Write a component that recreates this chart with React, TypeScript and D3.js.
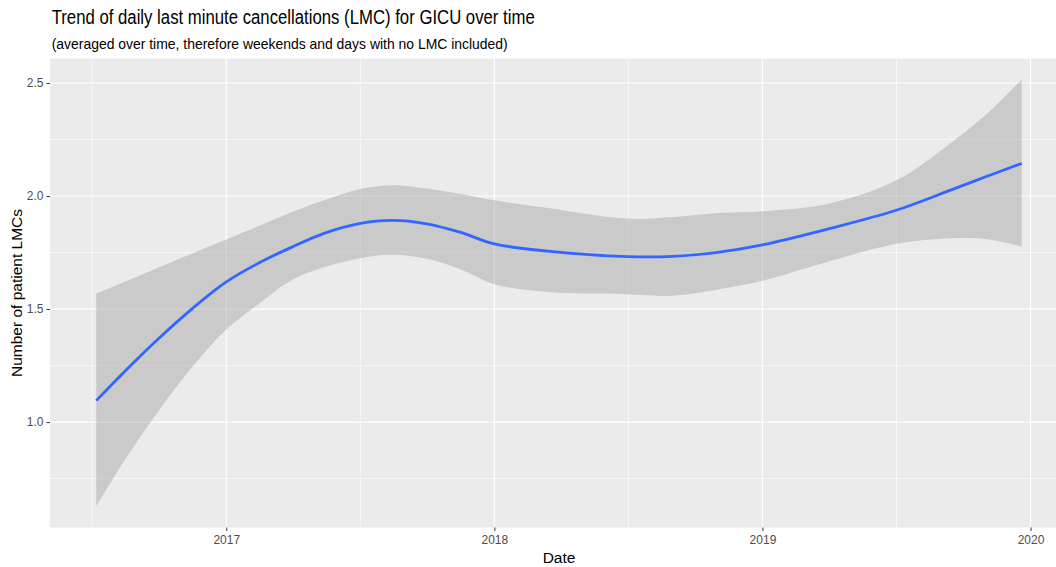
import React, { useRef, useEffect } from "react";
import * as d3 from "d3";

// loess smooth (date, fitted value, 95% band)
const dates = [
  "2016-07-08", "2016-08-15", "2016-10-01", "2016-11-15", "2017-01-01",
  "2017-02-15", "2017-04-01", "2017-05-15", "2017-07-01", "2017-08-15",
  "2017-10-01", "2017-11-15", "2018-01-01", "2018-03-15", "2018-07-01",
  "2018-09-01", "2018-11-01", "2019-01-01", "2019-04-01", "2019-07-01",
  "2019-09-15", "2019-11-01", "2019-12-20",
];
const fit = [
  1.095, 1.222, 1.37, 1.5, 1.62, 1.705, 1.775, 1.836, 1.878, 1.892,
  1.877, 1.84, 1.788, 1.756, 1.732, 1.733, 1.751, 1.784, 1.855, 1.936,
  2.027, 2.085, 2.144,
];
const upper = [
  1.569, 1.62, 1.684, 1.745, 1.808, 1.868, 1.929, 1.982, 2.03, 2.048,
  2.033, 2.01, 1.981, 1.947, 1.9, 1.907, 1.925, 1.933, 1.966, 2.067,
  2.236, 2.359, 2.514,
];
const lower = [
  0.628, 0.828, 1.05, 1.241, 1.41, 1.525, 1.63, 1.686, 1.724, 1.74,
  1.722, 1.677, 1.61, 1.575, 1.566, 1.559, 1.587, 1.625, 1.71, 1.788,
  1.813, 1.81, 1.776,
];

const yTicks = [1.0, 1.5, 2.0, 2.5];
const yMinor = [0.75, 1.25, 1.75, 2.25];
const xYears = ["2017", "2018", "2019", "2020"];

const title = "Trend of daily last minute cancellations (LMC) for GICU over time";
const subtitle = "(averaged over time, therefore weekends and days with no LMC included)";
const xTitle = "Date";
const yTitle = "Number of patient LMCs";

const FONT = "'Liberation Sans Narrow', 'Liberation Sans', Arial, sans-serif";

const App = () => {
  const plot = useRef(null);

  const width = 1056;
  const height = 567;
  const left = 50;
  const right = 1068;
  const top = 58.5;
  const bottom = 527.5;

  useEffect(() => {
    const svg = d3.select(plot.current);
    svg.selectAll("*").remove();

    const parse = d3.timeParse("%Y-%m-%d");
    const data = dates.map((d, i) => ({
      date: parse(d),
      fit: fit[i],
      hi: upper[i],
      lo: lower[i],
    }));

    // ggplot style 5% expansion
    const [t0, t1] = d3.extent(data, d => d.date.getTime());
    const tPad = (t1 - t0) * 0.05;
    const xScale = d3.scaleTime()
      .domain([new Date(t0 - tPad), new Date(t1 + tPad)])
      .range([left, right]);

    const vMin = d3.min(data, d => d.lo);
    const vMax = d3.max(data, d => d.hi);
    const vPad = (vMax - vMin) * 0.05;
    const yScale = d3.scaleLinear()
      .domain([vMin - vPad, vMax + vPad])
      .range([bottom, top]);

    // panel
    svg.append("rect")
      .attr("x", left)
      .attr("y", top)
      .attr("width", right - left)
      .attr("height", bottom - top)
      .attr("fill", "#EBEBEB");

    const majors = xYears.map(y => parse(y + "-01-01"));
    const minors = [];
    majors.forEach((m, i) => {
      const prev = i > 0 ? majors[i - 1].getTime() : m.getTime() - (majors[1] - majors[0]);
      minors.push(new Date((prev + m.getTime()) / 2));
    });

    const grid = svg.append("g");
    grid.append("g").selectAll("line")
      .data(yMinor)
      .join("line")
      .attr("x1", left).attr("x2", right)
      .attr("y1", d => yScale(d)).attr("y2", d => yScale(d))
      .attr("stroke", "#fff").attr("stroke-width", 0.6);
    grid.append("g").selectAll("line")
      .data(minors.filter(d => xScale(d) > left))
      .join("line")
      .attr("y1", top).attr("y2", bottom)
      .attr("x1", d => xScale(d)).attr("x2", d => xScale(d))
      .attr("stroke", "#fff").attr("stroke-width", 0.6);
    grid.append("g").selectAll("line")
      .data(yTicks)
      .join("line")
      .attr("x1", left).attr("x2", right)
      .attr("y1", d => yScale(d)).attr("y2", d => yScale(d))
      .attr("stroke", "#fff").attr("stroke-width", 1.2);
    grid.append("g").selectAll("line")
      .data(majors)
      .join("line")
      .attr("y1", top).attr("y2", bottom)
      .attr("x1", d => xScale(d)).attr("x2", d => xScale(d))
      .attr("stroke", "#fff").attr("stroke-width", 1.2);

    // confidence band
    const area = d3.area()
      .x(d => xScale(d.date))
      .y0(d => yScale(d.lo))
      .y1(d => yScale(d.hi))
      .curve(d3.curveCatmullRom.alpha(0.5));
    svg.append("path")
      .attr("d", area(data))
      .attr("fill", "#999999")
      .attr("fill-opacity", 0.4);

    const line = d3.line()
      .x(d => xScale(d.date))
      .y(d => yScale(d.fit))
      .curve(d3.curveCatmullRom.alpha(0.5));
    svg.append("path")
      .attr("d", line(data))
      .attr("fill", "none")
      .attr("stroke", "#3366FF")
      .attr("stroke-width", 2.8);

    // axes
    const xAxis = d3.axisBottom(xScale)
      .tickValues(majors)
      .tickFormat(d3.timeFormat("%Y"))
      .tickSize(3.5)
      .tickPadding(4);
    svg.append("g")
      .attr("transform", `translate(0, ${bottom})`)
      .call(xAxis)
      .call(g => g.select(".domain").remove())
      .call(g => g.selectAll(".tick line").attr("stroke", "#333333"))
      .call(g => g.selectAll(".tick text")
        .attr("fill", "#4D4D4D")
        .attr("font-family", FONT)
        .attr("font-size", 12));

    const yAxis = d3.axisLeft(yScale)
      .tickValues(yTicks)
      .tickFormat(d3.format(".1f"))
      .tickSize(3.5)
      .tickPadding(3);
    svg.append("g")
      .attr("transform", `translate(${left}, 0)`)
      .call(yAxis)
      .call(g => g.select(".domain").remove())
      .call(g => g.selectAll(".tick line").attr("stroke", "#333333"))
      .call(g => g.selectAll(".tick text")
        .attr("fill", "#4D4D4D")
        .attr("font-family", FONT)
        .attr("font-size", 12));

    // titles
    svg.append("text")
      .attr("x", 51.7).attr("y", 24)
      .attr("font-family", FONT)
      .attr("font-size", 19.5)
      .attr("textLength", 483)
      .attr("lengthAdjust", "spacingAndGlyphs")
      .attr("fill", "#000")
      .text(title);
    svg.append("text")
      .attr("x", 51.7).attr("y", 49)
      .attr("font-family", FONT)
      .attr("font-size", 14.5)
      .attr("textLength", 456)
      .attr("lengthAdjust", "spacingAndGlyphs")
      .attr("fill", "#000")
      .text(subtitle);
    svg.append("text")
      .attr("x", (left + right) / 2)
      .attr("y", 563)
      .attr("text-anchor", "middle")
      .attr("font-family", FONT)
      .attr("font-size", 15.5)
      .attr("fill", "#000")
      .text(xTitle);
    svg.append("text")
      .attr("transform", `translate(22, ${(top + bottom) / 2}) rotate(-90)`)
      .attr("text-anchor", "middle")
      .attr("font-family", FONT)
      .attr("font-size", 15.5)
      .attr("fill", "#000")
      .text(yTitle);
  });

  return (
    <svg
      ref={plot}
      width={width}
      height={height}
      style={{ position: "absolute", left: 0, top: 0, background: "#fff" }}
    />
  );
};

export default App;
